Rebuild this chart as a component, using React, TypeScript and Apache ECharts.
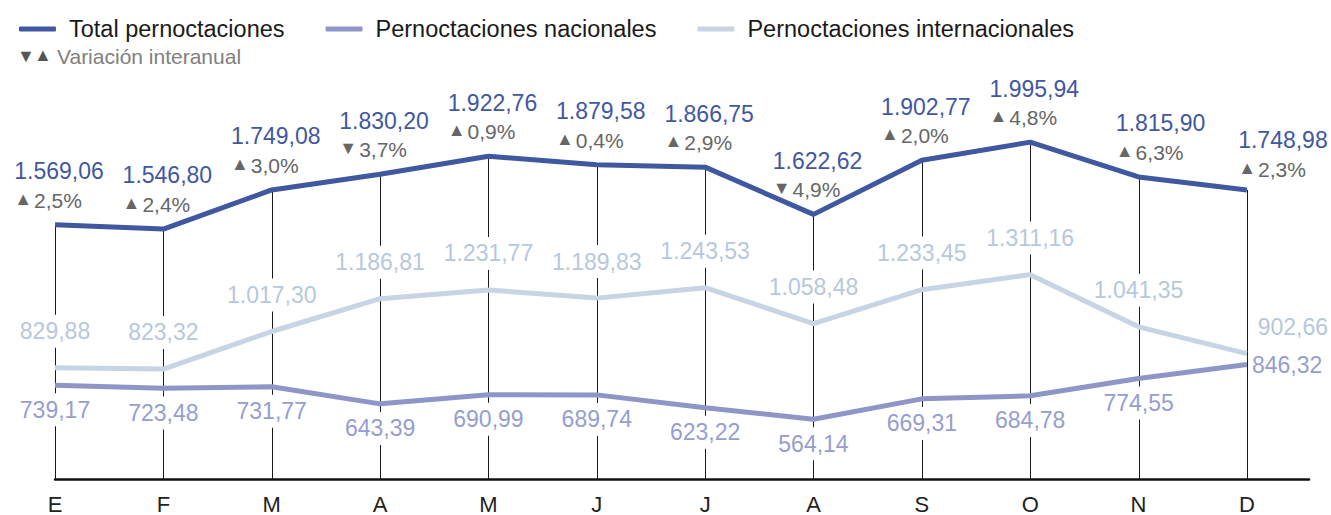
import React, { useEffect, useRef } from "react";
import * as echarts from "echarts";

const months = ["E", "F", "M", "A", "M", "J", "J", "A", "S", "O", "N", "D"];
const total = [1569.06, 1546.8, 1749.08, 1830.2, 1922.76, 1879.58, 1866.75, 1622.62, 1902.77, 1995.94, 1815.9, 1748.98];
const nacional = [739.17, 723.48, 731.77, 643.39, 690.99, 689.74, 623.22, 564.14, 669.31, 684.78, 774.55, 846.32];
const internacional = [829.88, 823.32, 1017.3, 1186.81, 1231.77, 1189.83, 1243.53, 1058.48, 1233.45, 1311.16, 1041.35, 902.66];
const variacion = [2.5, 2.4, 3.0, -3.7, 0.9, 0.4, 2.9, -4.9, 2.0, 4.8, 6.3, 2.3];

const Y_MIN = 255;
const Y_MAX = 2100;
const FONT = "'Liberation Sans', Arial, Helvetica, sans-serif";

const C_TOTAL = "#3F58A0";
const C_NAC = "#8E96C8";
const C_INT = "#C6D4E4";
const C_NAC_LBL = "#959ECF";
const C_INT_LBL = "#B6C8DD";
const CLEAR = "rgba(255,255,255,0)";

function fmt(v: number): string {
  const [ip, dp] = v.toFixed(2).split(".");
  const grouped = ip.replace(/\B(?=(\d{3})+(?!\d))/g, ".");
  return grouped + "," + dp;
}
function fmtPct(v: number): string {
  return Math.abs(v).toFixed(1).replace(".", ",") + "%";
}

export default function App() {
  const ref = useRef<HTMLDivElement>(null);
  useEffect(() => {
    if (!ref.current) return;
    const chart = echarts.init(ref.current, null, { renderer: "svg" });
    const last = months.length - 1;

    const totalData = total.map((v, i) => {
      const item: any = { value: [i, v] };
      if (i === 10) item.label = { offset: [22, 0] };
      if (i === last) item.label = { offset: [36, 4] };
      return item;
    });
    const nacData = nacional.map((v, i) => {
      const item: any = { value: [i, v] };
      if (i === last) item.label = { position: "right", distance: 2 };
      return item;
    });
    const intData = internacional.map((v, i) => {
      const item: any = { value: [i, v] };
      if (i === last) item.label = { offset: [46, 10] };
      return item;
    });

    const visible = {
      type: "line",
      symbol: "none",
      silent: true,
    };
    const labelOnly = {
      type: "line",
      symbol: "circle",
      symbolSize: 0.1,
      showSymbol: true,
      silent: true,
      z: 2,
      lineStyle: { width: 0, color: CLEAR },
      itemStyle: { color: CLEAR, borderWidth: 0 },
    };

    const option: any = {
      animation: false,
      textStyle: { fontFamily: FONT },
      grid: { left: 55, right: 22, top: 122, bottom: 35.5 },
      legend: {
        left: 14,
        top: 12,
        icon: "roundRect",
        itemWidth: 37,
        itemHeight: 5,
        itemGap: 41,
        selectedMode: false,
        textStyle: { fontSize: 23.5, color: "#1a1a1a", fontFamily: FONT, padding: [0, 0, 0, 8] },
        data: ["Total pernoctaciones", "Pernoctaciones nacionales", "Pernoctaciones internacionales"],
      },
      graphic: [
        { type: "text", left: 17, top: 47, style: { text: "▼", fontSize: 18, fill: "#555", fontFamily: FONT } },
        { type: "text", left: 34, top: 46, style: { text: "▲", fontSize: 18, fill: "#555", fontFamily: FONT } },
        { type: "text", left: 57, top: 46, style: { text: "Variación interanual", fontSize: 21, fill: "#808080", fontFamily: FONT } },
      ],
      xAxis: {
        type: "value",
        min: 0,
        max: 11.573,
        interval: 1,
        splitLine: { show: false },
        axisTick: { show: false },
        axisLine: { show: true, lineStyle: { color: "#111", width: 2.5 } },
        axisLabel: {
          fontSize: 22,
          color: "#222",
          margin: 14,
          fontFamily: FONT,
          showMaxLabel: false,
          formatter: (v: number) => (Number.isInteger(v) && months[v] !== undefined ? months[v] : ""),
        },
      },
      yAxis: { type: "value", min: Y_MIN, max: Y_MAX, show: false, splitLine: { show: false } },
      series: [
        {
          type: "custom",
          name: "drop",
          z: 1,
          silent: true,
          data: total.map((v, i) => [i, v]),
          encode: { x: 0, y: 1 },
          renderItem: (params: any, api: any) => {
            const x = api.value(0);
            const v = api.value(1);
            const top = api.coord([x, v]);
            const bot = api.coord([x, Y_MIN]);
            const px = Math.round(top[0]) + 0.5;
            return {
              type: "line",
              shape: { x1: px, y1: top[1], x2: px, y2: bot[1] },
              style: { stroke: "#1a1a1a", lineWidth: 1 },
            };
          },
        },
        {
          ...labelOnly,
          name: "int-labels",
          data: intData,
          label: {
            show: true,
            position: "top",
            distance: 20,
            fontSize: 23,
            color: C_INT_LBL,
            fontFamily: FONT,
            backgroundColor: "#fff",
            padding: [5, 3],
            formatter: (p: any) => fmt(p.value[1]),
          },
        },
        {
          ...labelOnly,
          name: "nac-labels",
          data: nacData,
          label: {
            show: true,
            position: "bottom",
            distance: 8,
            fontSize: 23,
            color: C_NAC_LBL,
            fontFamily: FONT,
            backgroundColor: "#fff",
            padding: [5, 3],
            formatter: (p: any) => fmt(p.value[1]),
          },
        },
        {
          ...visible,
          name: "Pernoctaciones internacionales",
          z: 3,
          data: internacional.map((v, i) => [i, v]),
          lineStyle: { color: C_INT, width: 5 },
          itemStyle: { color: C_INT },
        },
        {
          ...visible,
          name: "Pernoctaciones nacionales",
          z: 3,
          data: nacional.map((v, i) => [i, v]),
          lineStyle: { color: C_NAC, width: 5 },
          itemStyle: { color: C_NAC },
        },
        {
          type: "line",
          symbol: "circle",
          symbolSize: 0.1,
          showSymbol: true,
          silent: true,
          name: "Total pernoctaciones",
          z: 4,
          data: totalData,
          lineStyle: { color: C_TOTAL, width: 5 },
          itemStyle: { color: C_TOTAL },
          label: {
            show: true,
            position: "top",
            distance: 10,
            offset: [4, 0],
            fontFamily: FONT,
            formatter: (p: any) => {
              const i = p.dataIndex;
              const pv = variacion[i];
              const arrow = pv < 0 ? "▼" : "▲";
              return `{v|${fmt(total[i])}}\n{t|${arrow}}{p|${fmtPct(pv)}}`;
            },
            rich: {
              v: { fontSize: 23, color: C_TOTAL, lineHeight: 29, align: "left", fontFamily: FONT },
              t: { fontSize: 18, color: "#666", lineHeight: 29, align: "left", padding: [0, 2, 3, 0], fontFamily: FONT },
              p: { fontSize: 21, color: "#666", lineHeight: 29, align: "left", fontFamily: FONT },
            },
          },
        },
      ],
    };
    chart.setOption(option);
    return () => chart.dispose();
  }, []);
  return (
    <div
      ref={ref}
      style={{ position: "fixed", left: 0, top: 0, width: 1331, height: 515, background: "#fff" }}
    />
  );
}
